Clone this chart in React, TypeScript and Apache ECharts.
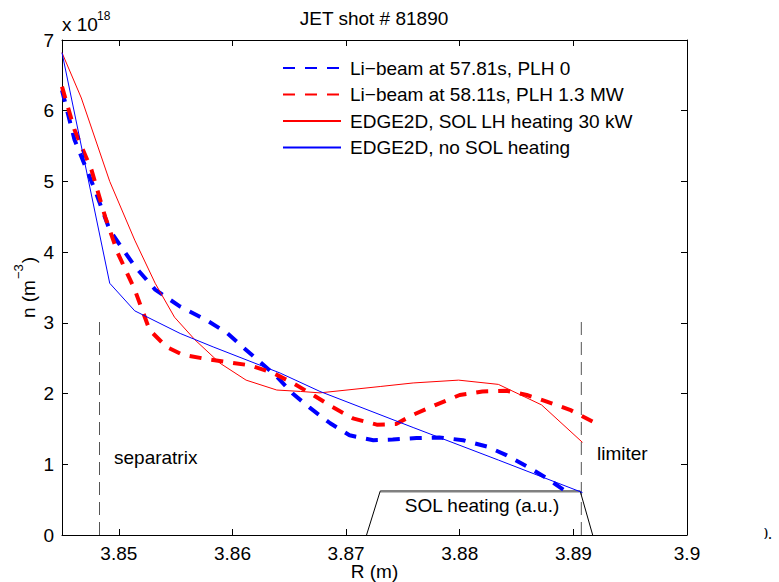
import React, { useEffect, useRef } from "react";
import * as echarts from "echarts";

// ---- data ----
const liBeam5781R = [3.845, 3.8461, 3.8479, 3.8492, 3.8514, 3.8532, 3.8554, 3.8577, 3.8595, 3.8609, 3.8624, 3.8639, 3.8653, 3.8668, 3.8686, 3.8703, 3.8724, 3.8741, 3.8762, 3.8782, 3.8803, 3.8824, 3.8841, 3.8859, 3.8876, 3.8895];
const liBeam5781N = [6.29, 5.59, 4.88, 4.31, 3.8, 3.47, 3.23, 3.04, 2.86, 2.66, 2.45, 2.24, 2.0, 1.8, 1.58, 1.41, 1.34, 1.35, 1.37, 1.38, 1.34, 1.25, 1.13, 0.97, 0.81, 0.6];

const liBeam5811R = [3.845, 3.8461, 3.8476, 3.8488, 3.8499, 3.8514, 3.8527, 3.8542, 3.8556, 3.858, 3.8615, 3.8636, 3.8653, 3.8671, 3.8688, 3.8706, 3.8727, 3.8744, 3.8759, 3.8779, 3.88, 3.882, 3.8841, 3.8859, 3.8876, 3.8897, 3.892];
const liBeam5811N = [6.34, 5.73, 5.16, 4.5, 3.99, 3.47, 2.9, 2.66, 2.55, 2.48, 2.4, 2.29, 2.15, 1.98, 1.81, 1.65, 1.56, 1.57, 1.7, 1.84, 1.98, 2.03, 2.04, 1.98, 1.89, 1.77, 1.58];

const edgeHeatR = [3.845, 3.8467, 3.8492, 3.8514, 3.8532, 3.8549, 3.8567, 3.8589, 3.8612, 3.8639, 3.866, 3.8677, 3.873, 3.8759, 3.8799, 3.8834, 3.8872, 3.8908];
const edgeHeatN = [6.82, 6.18, 5.0, 4.17, 3.56, 3.08, 2.76, 2.43, 2.19, 2.05, 2.03, 2.01, 2.1, 2.15, 2.19, 2.13, 1.84, 1.31];

const edgeNoHeatR = [3.845, 3.8492, 3.8514, 3.8554, 3.8583, 3.8642, 3.8677, 3.8759, 3.8834, 3.8908];
const edgeNoHeatN = [6.82, 3.56, 3.17, 2.85, 2.66, 2.29, 2.03, 1.52, 1.06, 0.6];

const separatrixR = 3.8483;
const limiterR = 3.8907;
const markerTopN = 3.1;

const solHeatR = [3.8718, 3.873, 3.8906, 3.8917];
const solHeatN = [0, 0.62, 0.62, 0];

const xTicks = [3.85, 3.86, 3.87, 3.88, 3.89, 3.9];
const seriesNames = [
  "Li\u2212beam at 57.81s, PLH 0",
  "Li\u2212beam at 58.11s, PLH 1.3 MW",
  "EDGE2D, SOL LH heating 30 kW",
  "EDGE2D, no SOL heating",
];

const FONT = "'Liberation Sans', Arial, Helvetica, sans-serif";

const zip = (xs: number[], ys: number[]) => xs.map((x, i) => [x, ys[i]]);

export default function App() {
  const ref = useRef<HTMLDivElement>(null);
  useEffect(() => {
    if (!ref.current) return;
    const chart = echarts.init(ref.current, null, { renderer: "svg" });
    const axisCommon = {
      type: "value" as const,
      splitLine: { show: false },
      axisLine: { show: true, onZero: false, lineStyle: { color: "#000", width: 1 } },
    };
    const markerStyle = { color: "#555", width: 1, type: [13, 7] };
    chart.setOption({
      animation: false,
      backgroundColor: "#fff",
      grid: { left: 62, right: 92, top: 40, bottom: 47, containLabel: false, outerBoundsMode: "none" },
      xAxis: [
        {
          ...axisCommon,
          position: "bottom",
          min: 3.845,
          max: 3.9,
          axisTick: { show: true, inside: true, length: 6, customValues: xTicks, lineStyle: { color: "#000" } },
          axisLabel: { customValues: xTicks, fontSize: 19, color: "#000", fontFamily: FONT, margin: 9 },
          name: "R (m)",
          nameLocation: "middle",
          nameGap: 27,
          nameMoveOverlap: false,
          nameTextStyle: { fontSize: 19, color: "#000", fontFamily: FONT },
        },
        {
          ...axisCommon,
          position: "top",
          min: 3.845,
          max: 3.9,
          axisTick: { show: true, inside: true, length: 6, customValues: xTicks, lineStyle: { color: "#000" } },
          axisLabel: { show: false },
        },
      ],
      yAxis: [
        {
          ...axisCommon,
          position: "left",
          min: 0,
          max: 7,
          interval: 1,
          axisTick: { show: true, inside: true, length: 6, lineStyle: { color: "#000" } },
          axisLabel: { fontSize: 19, color: "#000", fontFamily: FONT, margin: 8 },
          name: "{a|n (m}{b|\u22123}{a|)}",
          nameLocation: "middle",
          nameGap: 24,
          nameMoveOverlap: false,
          nameTextStyle: {
            fontFamily: FONT,
            color: "#000",
            rich: {
              a: { fontSize: 19, fontFamily: FONT, color: "#000", lineHeight: 26, verticalAlign: "bottom" },
              b: { fontSize: 13, fontFamily: FONT, color: "#000", lineHeight: 26, verticalAlign: "top", padding: [0, 1, 0, 1] },
            },
          },
        },
        {
          ...axisCommon,
          position: "right",
          min: 0,
          max: 7,
          interval: 1,
          axisTick: { show: true, inside: true, length: 6, lineStyle: { color: "#000" } },
          axisLabel: { show: false },
        },
      ],
      legend: {
        data: seriesNames,
        orient: "vertical",
        left: 282,
        top: 57,
        padding: 0,
        itemWidth: 58,
        itemHeight: 14,
        itemGap: 4.5,
        selectedMode: false,
        itemStyle: { opacity: 0, borderWidth: 0 },
        textStyle: { fontSize: 19, color: "#000", fontFamily: FONT, lineHeight: 22, padding: [0, 0, 0, 4] },
      },
      series: [
        {
          name: "separatrix",
          type: "line",
          symbol: "none",
          data: [[separatrixR, 0], [separatrixR, markerTopN]],
          lineStyle: markerStyle,
          z: 1,
        },
        {
          name: "limiter",
          type: "line",
          symbol: "none",
          data: [[limiterR, 0], [limiterR, markerTopN]],
          lineStyle: markerStyle,
          z: 1,
        },
        {
          name: "solTop",
          type: "line",
          symbol: "none",
          data: zip(solHeatR.slice(1, 3), solHeatN.slice(1, 3)),
          lineStyle: { color: "#808080", width: 2.5 },
          z: 1,
        },
        {
          name: "solLeft",
          type: "line",
          symbol: "none",
          data: zip(solHeatR.slice(0, 2), solHeatN.slice(0, 2)),
          lineStyle: { color: "#000", width: 1 },
          z: 1,
        },
        {
          name: "solRight",
          type: "line",
          symbol: "none",
          data: zip(solHeatR.slice(2, 4), solHeatN.slice(2, 4)),
          lineStyle: { color: "#000", width: 1 },
          z: 1,
        },
        {
          name: seriesNames[0],
          type: "line",
          symbol: "none",
          data: zip(liBeam5781R, liBeam5781N),
          lineStyle: { color: "#0000ff", width: 4, type: [12, 10], cap: "butt" },
          itemStyle: { color: "#0000ff" },
          z: 3,
        },
        {
          name: seriesNames[1],
          type: "line",
          symbol: "none",
          data: zip(liBeam5811R, liBeam5811N),
          lineStyle: { color: "#ff0000", width: 4, type: [12, 10], cap: "butt" },
          itemStyle: { color: "#ff0000" },
          z: 3,
        },
        {
          name: seriesNames[2],
          type: "line",
          symbol: "none",
          data: zip(edgeHeatR, edgeHeatN),
          lineStyle: { color: "#ff0000", width: 1 },
          itemStyle: { color: "#ff0000" },
          z: 4,
        },
        {
          name: seriesNames[3],
          type: "line",
          symbol: "none",
          data: zip(edgeNoHeatR, edgeNoHeatN),
          lineStyle: { color: "#0000ff", width: 1 },
          itemStyle: { color: "#0000ff" },
          z: 4,
        },
      ],
      graphic: [
        {
          type: "text",
          x: 374,
          y: 18,
          style: { text: "JET shot # 81890", fontSize: 19, fontFamily: FONT, fill: "#000", align: "center", verticalAlign: "middle" },
        },
        {
          type: "text",
          x: 62,
          y: 24,
          style: { text: "x 10", fontSize: 19, fontFamily: FONT, fill: "#000", align: "left", verticalAlign: "middle" },
        },
        {
          type: "text",
          x: 97,
          y: 16,
          style: { text: "18", fontSize: 12, fontFamily: FONT, fill: "#000", align: "left", verticalAlign: "middle" },
        },
        {
          type: "text",
          x: 114,
          y: 457,
          style: { text: "separatrix", fontSize: 19, fontFamily: FONT, fill: "#000", align: "left", verticalAlign: "middle" },
        },
        {
          type: "text",
          x: 597,
          y: 453,
          style: { text: "limiter", fontSize: 19, fontFamily: FONT, fill: "#000", align: "left", verticalAlign: "middle" },
        },
        {
          type: "text",
          x: 482,
          y: 505,
          style: { text: "SOL heating (a.u.)", fontSize: 19, fontFamily: FONT, fill: "#000", align: "center", verticalAlign: "middle" },
        },
        {
          type: "text",
          x: 760,
          y: 533,
          z: 10,
          style: { text: "0.", fontSize: 16, fontFamily: "'Liberation Serif', 'DejaVu Serif', serif", fill: "#000", align: "left", verticalAlign: "middle" },
        },
        {
          type: "rect",
          z: 11,
          shape: { x: 745, y: 520, width: 19.5, height: 25 },
          style: { fill: "#fff" },
        },
      ],
    });
    return () => chart.dispose();
  }, []);
  return (
    <div
      ref={ref}
      style={{ position: "absolute", left: 0, top: 0, width: 779, height: 582, background: "#fff" }}
    />
  );
}
